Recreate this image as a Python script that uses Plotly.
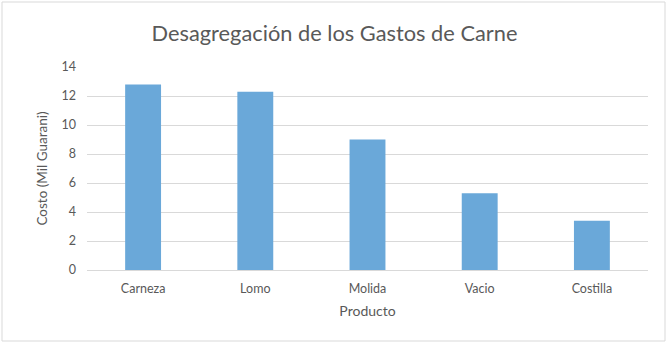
import plotly.graph_objects as go

# Meat expense breakdown (thousands of guaraníes)
productos = ["Carneza", "Lomo", "Molida", "Vacio", "Costilla"]
costos = [12.8, 12.3, 9.0, 5.3, 3.4]
y_ticks = [0, 2, 4, 6, 8, 10, 12, 14]

W, H = 669, 343
L, R, T, B = 87, 21, 67, 73
pw, ph = W - L - R, H - T - B

def px_x(x):
    return (x - L) / pw

def px_y(y):
    return (H - B - y) / ph

text_color = "#595959"
grid_color = "#d9d9d9"
font_family = "Lato, 'Open Sans', sans-serif"

fig = go.Figure(
    go.Bar(
        x=productos,
        y=costos,
        marker=dict(color="#6aa8d9", line=dict(width=0)),
        width=0.32,
    )
)

fig.update_layout(
    width=W,
    height=H,
    margin=dict(l=L, r=R, t=T, b=B),
    paper_bgcolor="white",
    plot_bgcolor="white",
    showlegend=False,
    font=dict(family=font_family, color=text_color, size=12),
    title=dict(
        text="Desagregación de los Gastos de Carne",
        x=0.5,
        xanchor="center",
        y=1 - 33 / H,
        yanchor="middle",
        font=dict(size=21.8, color=text_color, family=font_family),
    ),
    xaxis=dict(
        showgrid=False,
        showline=True,
        linecolor=grid_color,
        linewidth=1,
        ticks="",
        ticklabelstandoff=7,
        tickfont=dict(size=12.5, color=text_color),
        title=dict(text="Producto", font=dict(size=14, color=text_color), standoff=11),
    ),
    yaxis=dict(
        range=[0, 14],
        tickvals=y_ticks,
        showgrid=True,
        gridcolor=grid_color,
        gridwidth=1,
        zeroline=False,
        showline=False,
        ticks="",
        ticklabelstandoff=10,
        tickfont=dict(size=12.5, color=text_color),
        title=dict(text="Costo (Mil Guarani)", font=dict(size=13.5, color=text_color), standoff=10),
    ),
    bargap=0.68,
)

# Light frame around the whole chart
fig.add_shape(
    type="rect",
    xref="paper",
    yref="paper",
    x0=px_x(2),
    x1=px_x(665),
    y0=px_y(341),
    y1=px_y(2),
    line=dict(color=grid_color, width=1),
    fillcolor="rgba(0,0,0,0)",
    layer="below",
)

fig.write_html("out.html")
